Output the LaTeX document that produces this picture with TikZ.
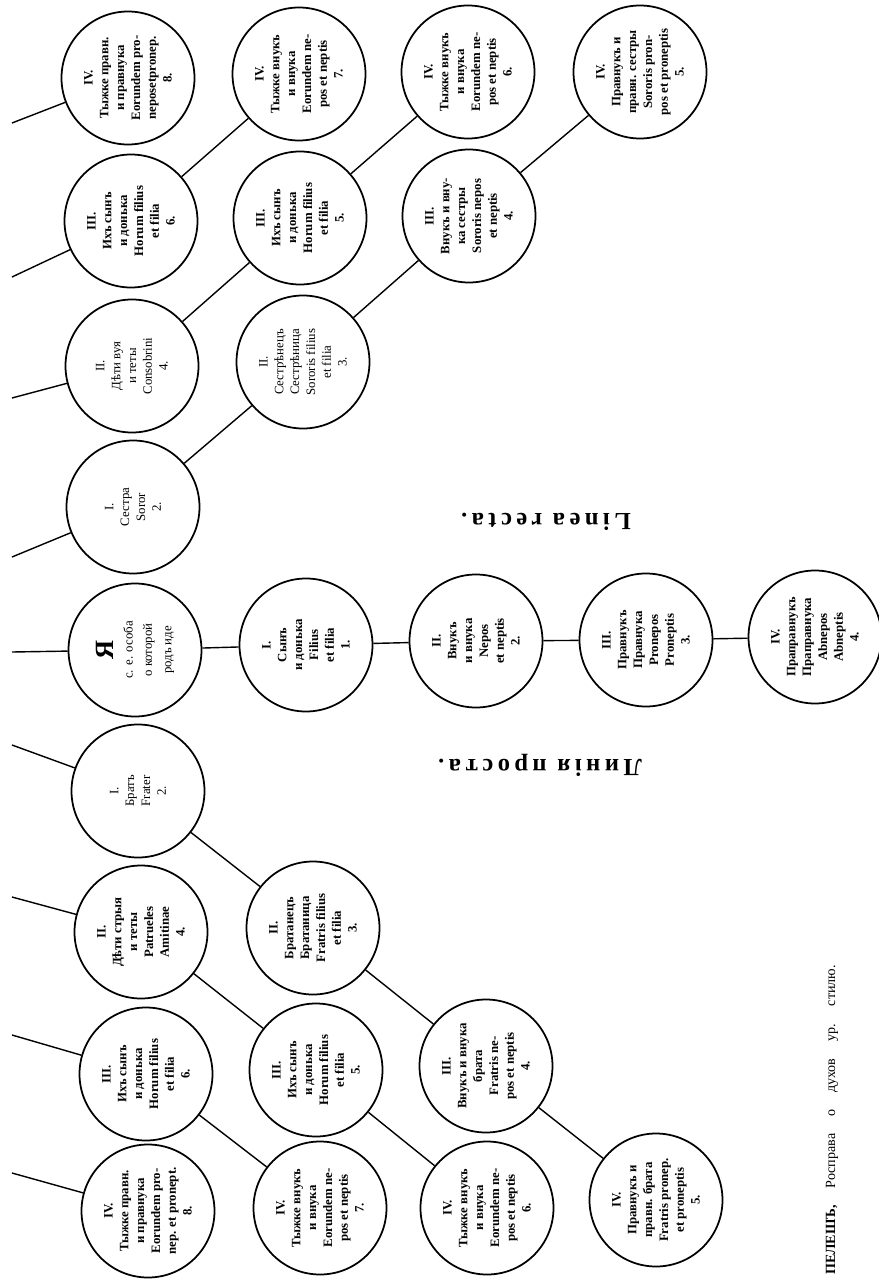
\documentclass[tikz,border=0pt]{standalone}
\usepackage{fontspec}
\setmainfont{Liberation Serif}
\usepackage{tikz}

\tikzset{
  kin/.style={draw, circle, line width=1pt, minimum size=26.6mm, inner sep=0pt,
    rotate=90, align=center, font=\fontsize{7.3}{9}\selectfont\bfseries},
  kinlight/.style={kin, font=\fontsize{7.3}{9}\selectfont},
  link/.style={line width=0.8pt},
  caption/.style={font=\fontsize{14}{14}\selectfont\bfseries\addfontfeatures{LetterSpace=18}, rotate=180}
}

\begin{document}
\begin{tikzpicture}[x=0.2mm, y=-0.2mm]
  \useasboundingbox (0,0) rectangle (879,1285);

  % Column 1 -- collateral line, first degree
  \node[kin] (t8) at (128,78) {IV.\\Тыжке правн.\\и правнука\\Eorundem pro-\\neposetpronep.\\8.};
  \node[kin] (t6) at (131,221) {III.\\Ихъ сынъ\\и донька\\Horum filius\\et filia\\6.};
  \node[kinlight] (vuj) at (132,366) {II.\\Дѣти вуя\\и теты\\Consobrini\\4.};
  \node[kinlight] (sestra) at (133,507) {I.\\Сестра\\Soror\\2.};
  \node[kinlight, font=\fontsize{7.3}{11}\selectfont] (ja) at (135,650) {{\fontsize{15}{15}\selectfont\bfseries Я}\\с. е. особа\\о которой\\родъ иде};
  \node[kinlight] (brat) at (138,791) {I.\\Братъ\\Frater\\2.};
  \node[kin] (stryj) at (141,932) {II.\\Дѣти стрыя\\и теты\\Patrueles\\Amitinae\\4.};
  \node[kin] (b6) at (146,1074) {III.\\Ихъ сынъ\\и донька\\Horum filius\\et filia\\6.};
  \node[kin] (b8) at (148,1211) {IV.\\Тыжке правн.\\и правнука\\Eorundem pro-\\nep. et pronept.\\8.};

  % Column 2
  \node[kin] (t7) at (299,74) {IV.\\Тыжке внукъ\\и внука\\Eorundem ne-\\pos et neptis\\7.};
  \node[kin] (t5) at (300,218) {III.\\Ихъ сынъ\\и донька\\Horum filius\\et filia\\5.};
  \node[kinlight] (sestrin) at (303,362) {II.\\Сестрѣнецъ\\Сестрѣница\\Sororis filius\\et filia\\3.};
  \node[kin] (syn) at (306,645) {I.\\Сынъ\\и донька\\Filius\\et filia\\1.};
  \node[kin] (bratan) at (313,928) {II.\\Братанецъ\\Братаница\\Fratris filius\\et filia\\3.};
  \node[kin] (b5) at (316,1070) {III.\\Ихъ сынъ\\и донька\\Horum filius\\et filia\\5.};
  \node[kin] (b7) at (320,1208) {IV.\\Тыжке внукъ\\и внука\\Eorundem ne-\\pos et neptis\\7.};

  % Column 3
  \node[kin] (t6b) at (468,72) {IV.\\Тыжке внукъ\\и внука\\Eorundem ne-\\pos et neptis\\6.};
  \node[kin] (vnsest) at (469,216) {III.\\Внукъ и вну-\\ка сестры\\Sororis nepos\\et neptis\\4.};
  \node[kin] (vnuk) at (476,641) {II.\\Внукъ\\и внука\\Nepos\\et neptis\\2.};
  \node[kin] (vnbrat) at (486,1066) {III.\\Внукъ и внука\\брата\\Fratris ne-\\pos et neptis\\4.};
  \node[kin] (b6b) at (487,1208) {IV.\\Тыжке внукъ\\и внука\\Eorundem ne-\\pos et neptis\\6.};

  % Column 4 and 5
  \node[kin] (prsest) at (640,72) {IV.\\Правнукъ и\\правн. сестры\\Sororis pron-\\pos et proneptis\\5.};
  \node[kin] (pravnuk) at (646,640) {III.\\Правнукъ\\Правнука\\Pronepos\\Proneptis\\3.};
  \node[kin] (prbrat) at (656,1200) {IV.\\Правнукъ и\\правн. брата\\Fratris pronep.\\et proneptis\\5.};
  \node[kin] (prapr) at (815,637) {IV.\\Праправнукъ\\Праправнука\\Abnepos\\Abneptis\\4.};

  % Line labels
  \node[caption] (recta) at (546,522) {Linea recta.};
  \node[caption] (prosta) at (540,765) {Линія проста.};
  \node[rotate=90, font=\fontsize{8}{8}\selectfont] (source) at (832,1120)
       {\spaceskip=1.2em\relax\textbf{ПЕЛЕШЪ,} Росправа о духов ур. стилю.};

  % Straight line
  \draw[link] (ja) -- (syn);
  \draw[link] (syn) -- (vnuk);
  \draw[link] (vnuk) -- (pravnuk);
  \draw[link] (pravnuk) -- (prapr);

  % Sister side
  \draw[link] (sestra) -- (sestrin);
  \draw[link] (sestrin) -- (vnsest);
  \draw[link] (vnsest) -- (prsest);
  \draw[link] (vuj) -- (t5);
  \draw[link] (t5) -- (t6b);
  \draw[link] (t6) -- (t7);

  % Brother side
  \draw[link] (brat) -- (bratan);
  \draw[link] (bratan) -- (vnbrat);
  \draw[link] (vnbrat) -- (prbrat);
  \draw[link] (stryj) -- (b5);
  \draw[link] (b5) -- (b6b);
  \draw[link] (b6) -- (b7);

  % Lines running off the page
  \coordinate (e1) at (12,123);
  \coordinate (e2) at (12,277);
  \coordinate (e3) at (12,398);
  \coordinate (e4) at (12,557);
  \coordinate (e5) at (12,652);
  \coordinate (e6) at (12,745);
  \coordinate (e7) at (12,897);
  \coordinate (e8) at (12,1035);
  \coordinate (e9) at (12,1173);
  \draw[link] (e1) -- (t8);
  \draw[link] (e2) -- (t6);
  \draw[link] (e3) -- (vuj);
  \draw[link] (e4) -- (sestra);
  \draw[link] (e5) -- (ja);
  \draw[link] (e6) -- (brat);
  \draw[link] (e7) -- (stryj);
  \draw[link] (e8) -- (b6);
  \draw[link] (e9) -- (b8);
\end{tikzpicture}
\end{document}
